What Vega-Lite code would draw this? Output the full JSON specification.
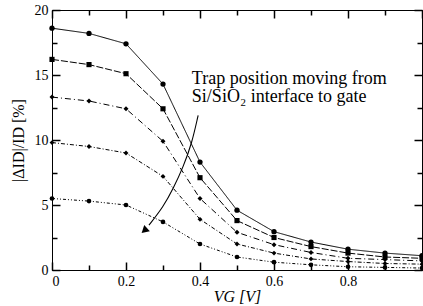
{
  "$schema": "https://vega.github.io/schema/vega-lite/v6.json",
  "width": 370,
  "height": 260,
  "autosize": {"type": "none"},
  "padding": {"left": 52, "top": 10, "right": 1, "bottom": 36},
  "background": "white",
  "config": {
    "font": "'Liberation Serif', 'Times New Roman', Times, 'DejaVu Serif', serif",
    "view": {"stroke": "black", "strokeWidth": 1},
    "axis": {"labelFont": "'Liberation Serif', 'Times New Roman', Times, 'DejaVu Serif', serif", "titleFont": "'Liberation Serif', 'Times New Roman', Times, 'DejaVu Serif', serif", "labelColor": "black", "titleColor": "black", "domainColor": "black", "tickColor": "black", "tickWidth": 1.5, "grid": false, "labelFontSize": 14, "titleFontSize": 16, "titleFontWeight": "normal"}
  },
  "datasets": {
    "curves": [
      {"s": "c1", "v": 0, "d": 18.6}, {"s": "c1", "v": 0.1, "d": 18.2}, {"s": "c1", "v": 0.2, "d": 17.4}, {"s": "c1", "v": 0.3, "d": 14.3}, {"s": "c1", "v": 0.4, "d": 8.3}, {"s": "c1", "v": 0.5, "d": 4.6}, {"s": "c1", "v": 0.6, "d": 2.95}, {"s": "c1", "v": 0.7, "d": 2.15}, {"s": "c1", "v": 0.8, "d": 1.6}, {"s": "c1", "v": 0.9, "d": 1.3}, {"s": "c1", "v": 1.0, "d": 1.1},
      {"s": "c2", "v": 0, "d": 16.2}, {"s": "c2", "v": 0.1, "d": 15.8}, {"s": "c2", "v": 0.2, "d": 15.1}, {"s": "c2", "v": 0.3, "d": 12.4}, {"s": "c2", "v": 0.4, "d": 7.1}, {"s": "c2", "v": 0.5, "d": 3.8}, {"s": "c2", "v": 0.6, "d": 2.5}, {"s": "c2", "v": 0.7, "d": 1.8}, {"s": "c2", "v": 0.8, "d": 1.3}, {"s": "c2", "v": 0.9, "d": 1.0}, {"s": "c2", "v": 1.0, "d": 0.9},
      {"s": "c3", "v": 0, "d": 13.3}, {"s": "c3", "v": 0.1, "d": 13.0}, {"s": "c3", "v": 0.2, "d": 12.4}, {"s": "c3", "v": 0.3, "d": 9.9}, {"s": "c3", "v": 0.4, "d": 5.5}, {"s": "c3", "v": 0.5, "d": 2.9}, {"s": "c3", "v": 0.6, "d": 1.95}, {"s": "c3", "v": 0.7, "d": 1.35}, {"s": "c3", "v": 0.8, "d": 0.9}, {"s": "c3", "v": 0.9, "d": 0.8}, {"s": "c3", "v": 1.0, "d": 0.7},
      {"s": "c4", "v": 0, "d": 9.8}, {"s": "c4", "v": 0.1, "d": 9.5}, {"s": "c4", "v": 0.2, "d": 9.0}, {"s": "c4", "v": 0.3, "d": 7.2}, {"s": "c4", "v": 0.4, "d": 3.9}, {"s": "c4", "v": 0.5, "d": 2.0}, {"s": "c4", "v": 0.6, "d": 1.3}, {"s": "c4", "v": 0.7, "d": 0.85}, {"s": "c4", "v": 0.8, "d": 0.65}, {"s": "c4", "v": 0.9, "d": 0.5}, {"s": "c4", "v": 1.0, "d": 0.45},
      {"s": "c5", "v": 0, "d": 5.5}, {"s": "c5", "v": 0.1, "d": 5.3}, {"s": "c5", "v": 0.2, "d": 5.0}, {"s": "c5", "v": 0.3, "d": 3.7}, {"s": "c5", "v": 0.4, "d": 2.0}, {"s": "c5", "v": 0.5, "d": 1.0}, {"s": "c5", "v": 0.6, "d": 0.6}, {"s": "c5", "v": 0.7, "d": 0.4}, {"s": "c5", "v": 0.8, "d": 0.25}, {"s": "c5", "v": 0.9, "d": 0.2}, {"s": "c5", "v": 1.0, "d": 0.15}
    ],
    "arrow": [
      {"o": 1, "v": 0.395, "d": 11.9},
      {"o": 2, "v": 0.378, "d": 9.75},
      {"o": 3, "v": 0.355, "d": 7.95},
      {"o": 4, "v": 0.328, "d": 6.28},
      {"o": 5, "v": 0.301, "d": 4.87},
      {"o": 6, "v": 0.262, "d": 3.45}
    ],
    "head": [{"v": 0.252, "d": 3.1}],
    "label": [{"v": 0.378, "d": 14.3, "t": "Trap position moving from\nSi/SiO₂ interface to gate"}]
  },
  "layer": [
    {
      "data": {"name": "curves"},
      "mark": {"type": "line", "color": "black", "strokeWidth": 1},
      "encoding": {
        "x": {"field": "v", "type": "quantitative", "scale": {"domain": [0, 1], "nice": false},
          "axis": {"title": "VG [V]", "values": [0, 0.2, 0.4, 0.6, 0.8], "format": "~g", "tickSize": 0, "labelPadding": 4, "titlePadding": 0, "titleFontStyle": "italic"}},
        "y": {"field": "d", "type": "quantitative", "scale": {"domain": [0, 20], "nice": false},
          "axis": {"title": "|ΔID|/ID [%]", "values": [0, 5, 10, 15, 20], "tickSize": 0, "labelPadding": 4, "titlePadding": 8}},
        "detail": {"field": "s"},
        "strokeDash": {"field": "s", "type": "nominal", "legend": null,
          "scale": {"domain": ["c1", "c2", "c3", "c4", "c5"], "range": [[1, 0], [7, 2], [6, 3, 1, 3], [4, 2, 1, 2], [3, 2, 1, 2, 1, 2]]}}
      }
    },
    {
      "data": {"name": "curves"},
      "mark": {"type": "point", "filled": true, "color": "black", "opacity": 1},
      "encoding": {
        "x": {"field": "v", "type": "quantitative", "axis": {"orient": "top", "offset": -260, "title": null, "labels": false, "ticks": true, "tickColor": "black", "zindex": 1, "values": [0, 0.1, 0.2, 0.3, 0.4, 0.5, 0.6, 0.7, 0.8, 0.9, 1.0], "tickSize": {"condition": {"test": "round(datum.value*10) % 2 == 0", "value": 8}, "value": 5}}},
        "y": {"field": "d", "type": "quantitative", "axis": {"orient": "right", "offset": -370, "title": null, "labels": false, "ticks": true, "tickColor": "black", "zindex": 1, "values": [0, 2.5, 5, 7.5, 10, 12.5, 15, 17.5, 20], "tickSize": {"condition": {"test": "datum.value % 5 == 0", "value": 8}, "value": 5}}},
        "shape": {"field": "s", "type": "nominal", "legend": null,
          "scale": {"domain": ["c1", "c2", "c3", "c4", "c5"], "range": ["circle", "square", "diamond", "diamond", "circle"]}},
        "size": {"field": "s", "type": "nominal", "legend": null,
          "scale": {"domain": ["c1", "c2", "c3", "c4", "c5"], "range": [28, 22, 12, 9, 5]}}
      }
    },
    {
      "data": {"name": "arrow"},
      "mark": {"type": "line", "color": "black", "strokeWidth": 1.1, "interpolate": "basis"},
      "encoding": {
        "x": {"field": "v", "type": "quantitative", "axis": {"orient": "bottom", "offset": -260, "title": null, "labels": false, "ticks": true, "tickColor": "black", "zindex": 1, "values": [0, 0.1, 0.2, 0.3, 0.4, 0.5, 0.6, 0.7, 0.8, 0.9, 1.0], "tickSize": {"condition": {"test": "round(datum.value*10) % 2 == 0", "value": 8}, "value": 5}}},
        "y": {"field": "d", "type": "quantitative", "axis": {"orient": "left", "offset": -370, "title": null, "labels": false, "ticks": true, "tickColor": "black", "zindex": 1, "values": [0, 2.5, 5, 7.5, 10, 12.5, 15, 17.5, 20], "tickSize": {"condition": {"test": "datum.value % 5 == 0", "value": 8}, "value": 5}}},
        "order": {"field": "o"}
      }
    },
    {
      "data": {"name": "head"},
      "mark": {"type": "point", "shape": "triangle", "filled": true, "color": "black", "opacity": 1, "size": 70, "angle": 228},
      "encoding": {
        "x": {"field": "v", "type": "quantitative", "axis": null},
        "y": {"field": "d", "type": "quantitative", "axis": null}
      }
    },
    {
      "data": {"name": "label"},
      "mark": {"type": "text", "font": "'Liberation Serif', 'Times New Roman', Times, 'DejaVu Serif', serif", "fontSize": 18, "align": "left", "baseline": "alphabetic", "lineBreak": "\n", "lineHeight": 18, "color": "black"},
      "encoding": {
        "x": {"field": "v", "type": "quantitative", "axis": null},
        "y": {"field": "d", "type": "quantitative", "axis": null},
        "text": {"field": "t"}
      }
    }
  ],
  "resolve": {"axis": {"x": "independent", "y": "independent"}}
}
